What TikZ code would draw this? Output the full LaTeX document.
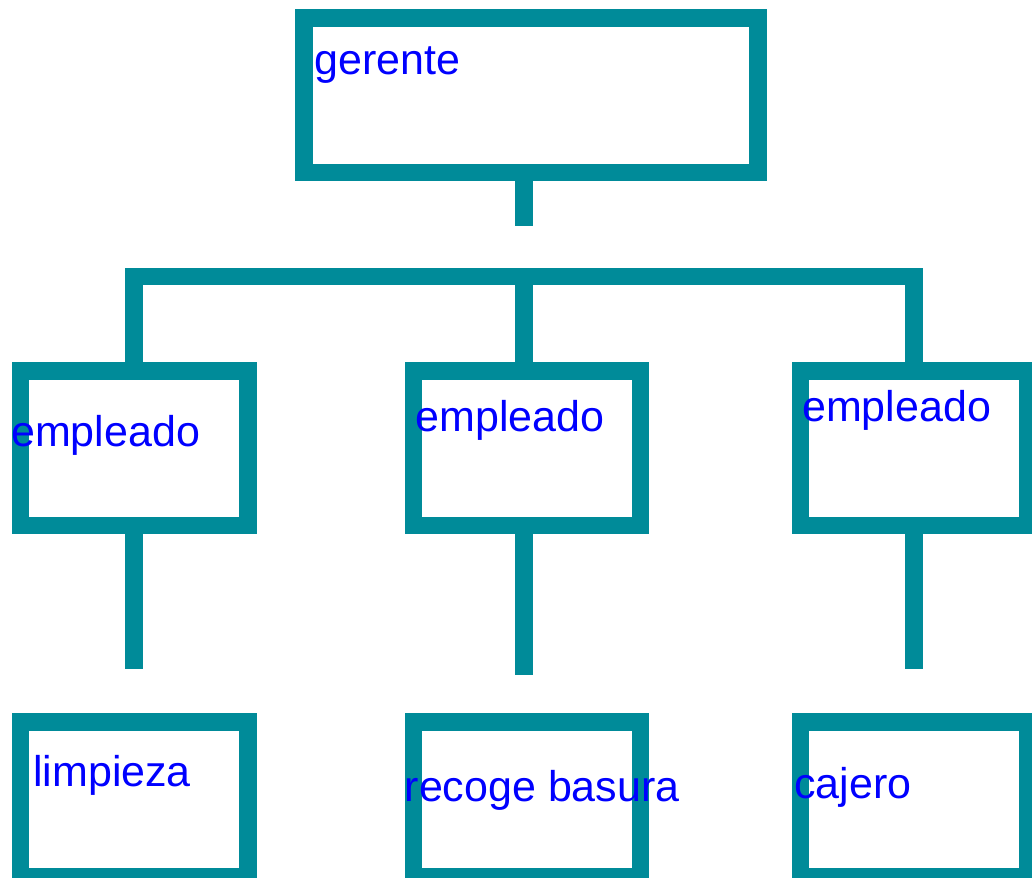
\documentclass[tikz,border=0pt]{standalone}
\usepackage{fontspec}
\setmainfont{Liberation Sans}
\definecolor{teal}{RGB}{0,139,153}
\tikzset{
  orgbox/.style={shape=rectangle,draw=teal,line width=17.5pt,minimum width=227.4pt,minimum height=154.5pt,inner sep=0pt},
  lbl/.style={anchor=base west,inner sep=0pt,text=blue,font=\fontsize{43}{50}\selectfont},
  link/.style={draw=teal,line width=17.5pt,line cap=butt,line join=miter}
}
\begin{document}
\begin{tikzpicture}[x=1pt,y=-1pt]
    \useasboundingbox (0,0) rectangle (1032,877);
    \clip (0,0) rectangle (1032,877);

    \node[orgbox,minimum width=454pt] (ger) at (531.2,95.3) {};
    \node[orgbox] (emp1) at (134.2,448.4) {};
    \node[orgbox] (emp2) at (527,448.4) {};
    \node[orgbox] (emp3) at (914.2,448.4) {};
    \node[orgbox,minimum height=155pt] (limp) at (134.2,799.6) {};
    \node[orgbox,minimum height=155pt] (basura) at (527,799.6) {};
    \node[orgbox,minimum height=155pt] (caj) at (914.2,799.6) {};

    \coordinate (stub) at (524,225.7);
    \coordinate (bar) at (524,276.3);
    \coordinate (end1) at (134,669.3);
    \coordinate (end2) at (524,675);
    \coordinate (end3) at (914,669.3);

    \path[link] (ger.south -| stub) -- (stub);
    \path[link] (emp1.north) |- (bar) -| (emp3.north);
    \path[link] (bar) -- (bar |- emp2.north);
    \path[link] (emp1.south -| end1) -- (end1);
    \path[link] (emp2.south -| end2) -- (end2);
    \path[link] (emp3.south -| end3) -- (end3);

    \node[lbl] (tger) at (314,74.5) {gerente};
    \node[lbl] (temp1) at (11,446) {empleado};
    \node[lbl] (temp2) at (415.5,431) {empleado};
    \node[lbl] (temp3) at (802,421) {empleado};
    \node[lbl] (tlimp) at (33,786.5) {limpieza};
    \node[lbl] (tbasura) at (404.5,801.5) {recoge basura};
    \node[lbl] (tcaj) at (794,798.5) {cajero};

\end{tikzpicture}
\end{document}
